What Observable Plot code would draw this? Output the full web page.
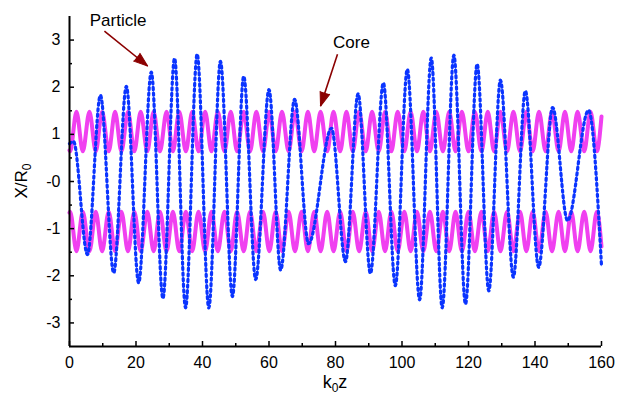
<!DOCTYPE html>
<html><head><meta charset="utf-8">
<script src="https://cdn.jsdelivr.net/npm/d3@7"></script>
<script src="https://cdn.jsdelivr.net/npm/@observablehq/plot@0.6"></script>
<style>body{margin:0;background:#fff;}</style>
</head><body><div id="chart"></div>
<script>
// Particle trajectory: extrema (k0z, X/R0)
const particleZ = [0, 1.2, 5.4, 9.3, 13.3, 17.1, 20.8, 24.6, 28.1, 31.6, 34.9, 38.4, 41.9, 45.4, 49.0, 52.4, 56.0, 60.0, 63.5, 67.7, 71.9, 78.8, 83.0, 86.8, 90.5, 94.4, 98.0, 101.6, 105.3, 108.8, 112.1, 115.6, 119.1, 122.6, 126.1, 129.6, 133.5, 137.1, 141.1, 145.3, 149.8, 156.1, 160];
const particleX = [0.80, 0.85, -1.55, 1.83, -1.94, 2.02, -2.15, 2.32, -2.48, 2.61, -2.68, 2.70, -2.68, 2.55, -2.44, 2.23, -2.08, 1.95, -1.88, 1.74, -1.32, 1.13, -1.70, 1.86, -1.95, 2.09, -2.21, 2.38, -2.51, 2.62, -2.68, 2.68, -2.60, 2.49, -2.32, 2.15, -2.03, 1.92, -1.82, 1.57, -0.83, 1.51, -1.79];

// Core radius: extrema (upper branch = +R, lower branch = -R)
const coreZ = [0, 0.2, 2.1, 4.0, 6.0, 7.9, 9.8, 11.8, 13.7, 15.6, 17.6, 19.5, 21.4, 23.4, 25.3, 27.2, 29.2, 31.1, 33.0, 35.0, 36.9, 38.8, 40.8, 42.7, 44.6, 46.6, 48.5, 50.4, 52.4, 54.3, 56.2, 58.2, 60.1, 62.0, 63.9, 65.9, 67.8, 69.8, 71.7, 73.6, 75.5, 77.5, 79.4, 81.4, 83.3, 85.2, 87.1, 89.1, 91.0, 93.0, 94.9, 96.8, 98.7, 100.7, 102.6, 104.5, 106.4, 108.4, 110.3, 112.3, 114.2, 116.1, 118.0, 120.0, 121.9, 123.9, 125.8, 127.7, 129.6, 131.6, 133.5, 135.5, 137.4, 139.3, 141.2, 143.2, 145.1, 147.1, 149.0, 150.9, 152.8, 154.8, 156.7, 158.6, 160];
const coreR = [0.66, 0.64, 1.48, 0.64, 1.48, 0.64, 1.48, 0.64, 1.48, 0.64, 1.48, 0.64, 1.48, 0.64, 1.48, 0.64, 1.48, 0.64, 1.48, 0.64, 1.48, 0.64, 1.48, 0.64, 1.48, 0.64, 1.48, 0.64, 1.48, 0.64, 1.48, 0.64, 1.48, 0.64, 1.48, 0.64, 1.48, 0.64, 1.48, 0.64, 1.48, 0.64, 1.48, 0.64, 1.48, 0.64, 1.48, 0.64, 1.48, 0.64, 1.48, 0.64, 1.48, 0.64, 1.48, 0.64, 1.48, 0.64, 1.48, 0.64, 1.48, 0.64, 1.48, 0.64, 1.48, 0.64, 1.48, 0.64, 1.48, 0.64, 1.48, 0.64, 1.48, 0.64, 1.48, 0.64, 1.48, 0.64, 1.48, 0.64, 1.48, 0.64, 1.48, 0.64, 1.38];

// Axis ticks and labels
const xMajorTicks = [0, 20, 40, 60, 80, 100, 120, 140, 160];
const xMinorTicks = [10, 30, 50, 70, 90, 110, 130, 150];
const yMajorTicks = [-3, -2, -1, 0, 1, 2, 3];
const yTickLabels = ["-3", "-2", "-1", "-0", "1", "2", "3"];
const yMinorTicks = [-2.5, -1.5, -0.5, 0.5, 1.5, 2.5];

// Annotations
const annotLabels = ["Particle", "Core"];
const annotTextZ = [14.6, 84.8];
const annotTextX = [3.42, 2.94];
const arrowFromZ = [10.5, 80.6];
const arrowFromX = [3.19, 2.70];
const arrowToZ = [23.5, 75.5];
const arrowToX = [2.45, 1.60];

const W = 629, H = 400, mL = 69, mR = 28, mT = 16, mB = 54;
const xDom = [0, 160], yDom = [-3.5, 3.5];

const particle = particleZ.map((z, i) => ({z, x: particleX[i]}));
const coreUpper = coreZ.map((z, i) => ({z, x: coreR[i]}));
const coreLower = coreZ.map((z, i) => ({z, x: -coreR[i]}));
const annots = annotLabels.map((t, i) => ({t, z: annotTextZ[i], x: annotTextX[i]}));
const sx = z => mL + (z - xDom[0]) / (xDom[1] - xDom[0]) * (W - mL - mR);
const sy = v => mT + (yDom[1] - v) / (yDom[1] - yDom[0]) * (H - mT - mB);
const arrows = arrowFromZ.map((z, i) => {
  const dx = sx(arrowToZ[i]) - sx(z), dy = sy(arrowToX[i]) - sy(arrowFromX[i]);
  return {z1: z, x1: arrowFromX[i], z2: arrowToZ[i], x2: arrowToX[i],
    angle: Math.atan2(dx, -dy) * 180 / Math.PI};
});

const magenta = "#f040f0", blue = "#0a34ff", arrowCol = "#8b0000";
const font = "'Liberation Sans', Arial, sans-serif";

const plot = Plot.plot({
  width: W, height: H,
  marginLeft: mL, marginRight: mR, marginTop: mT, marginBottom: mB,
  style: {fontFamily: font, fontSize: "16px", color: "#000", background: "#fff"},
  x: {domain: xDom, axis: null},
  y: {domain: yDom, axis: null},
  marks: [
    Plot.line(coreUpper, {x: "z", y: "x", stroke: magenta, strokeWidth: 4, curve: "monotone-x"}),
    Plot.line(coreLower, {x: "z", y: "x", stroke: magenta, strokeWidth: 4, curve: "monotone-x"}),
    Plot.line(particle, {x: "z", y: "x", stroke: "#a8b6ff", strokeWidth: 1, curve: "monotone-x"}),
    Plot.line(particle, {x: "z", y: "x", stroke: blue, strokeWidth: 3.2, strokeDasharray: "2.2,3.4", curve: "monotone-x"}),
    Plot.ruleX([xDom[0]], {stroke: "#000", strokeWidth: 2}),
    Plot.ruleY([yDom[0]], {stroke: "#000", strokeWidth: 2}),
    Plot.axisX(xMajorTicks, {anchor: "bottom", tickSize: -5, tickPadding: 15, strokeWidth: 1.5, fontSize: 16, label: null, tickFormat: d => String(d)}),
    Plot.axisX(xMinorTicks, {anchor: "bottom", tickSize: -3, strokeWidth: 1.5, label: null, tickFormat: () => ""}),
    Plot.axisY(yMajorTicks, {anchor: "left", tickSize: -5, tickPadding: 14, strokeWidth: 1.5, fontSize: 16, label: null, tickFormat: d => yTickLabels[yMajorTicks.indexOf(d)]}),
    Plot.axisY(yMinorTicks, {anchor: "left", tickSize: -3, strokeWidth: 1.5, label: null, tickFormat: () => ""}),
    Plot.link(arrows, {x1: "z1", y1: "x1", x2: "z2", y2: "x2", stroke: arrowCol, strokeWidth: 1.6}),
    Plot.vector(arrows, {x: "z2", y: "x2", rotate: "angle", length: 14, r: 5, shape: "spike", anchor: "end", stroke: arrowCol, fill: arrowCol, strokeWidth: 1}),
    Plot.text(annots, {x: "z", y: "x", text: "t", fontSize: 17, fill: "#000"})
  ]
});

const svg = d3.select(plot);
const xl = svg.append("text").attr("x", (mL + W - mR) / 2).attr("y", 388)
  .attr("text-anchor", "middle").attr("font-family", font).attr("font-size", 18).attr("fill", "#000");
xl.append("tspan").text("k");
xl.append("tspan").attr("font-size", 12).attr("dy", 4).text("0");
xl.append("tspan").attr("dy", -4).text("z");
const yl = svg.append("text").attr("transform", `translate(27,${(mT + H - mB) / 2}) rotate(-90)`)
  .attr("text-anchor", "middle").attr("font-family", font).attr("font-size", 17).attr("fill", "#000");
yl.append("tspan").text("X/R");
yl.append("tspan").attr("font-size", 12).attr("dy", 4).text("0");

document.getElementById("chart").appendChild(plot);
</script>
</body></html>
